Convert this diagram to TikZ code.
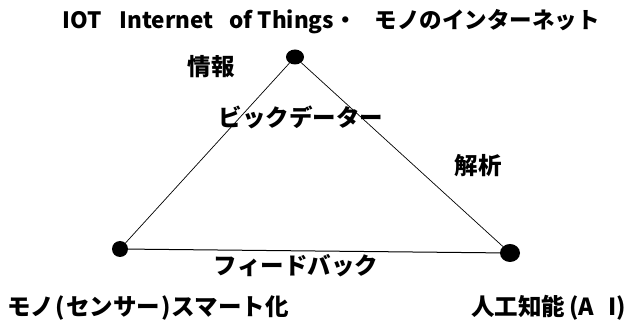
\documentclass[tikz,border=0pt]{standalone}
\usepackage{fontspec}
\setmainfont{Noto Sans CJK JP}
\usetikzlibrary{shapes.geometric}
\begin{document}
\begin{tikzpicture}[x=1pt,y=-1pt,
  dot/.style={ellipse,fill=black,inner sep=0pt},
  lbl/.style={font=\fontsize{23.5}{27}\selectfont\bfseries,inner sep=0pt}]
  \useasboundingbox (0,0) rectangle (630,323);
  % dots
  \node[dot,minimum width=18,minimum height=15] (iot) at (295,57) {};
  \node[dot,minimum width=16,minimum height=16] (mono) at (120,249) {};
  \node[dot,minimum width=20,minimum height=18] (ai) at (510,253) {};

  % triangle
  \draw[line width=0.7pt] (iot) -- (mono);
  \draw[line width=0.7pt] (iot) -- (ai);
  \draw[line width=1pt] (mono) -- (ai);

  % labels
  \node[lbl,font=\fontsize{22.5}{26}\selectfont\bfseries,anchor=west] (title) at (62,22)
    {IOT\hspace{18pt}Internet\hspace{16pt}of Things・\hspace{18pt}モノのインターネット};
  \node[lbl] (info) at (211,67) {情報};
  \node[lbl] (bigdata) at (301,117) {ビックデーター};
  \node[lbl] (analysis) at (478,166) {解析};
  \node[lbl] (feedback) at (296,266) {フィードバック};
  \node[lbl,anchor=west] (smart) at (7,308)
    {モノ\hspace{1pt}(\hspace{1.5pt}センサー\hspace{1.5pt})\hspace{1pt}スマート化};
  \node[lbl,anchor=east] (ainame) at (626,308)
    {人工知能\hspace{4pt}(A\hspace{14pt}I)};
\end{tikzpicture}
\end{document}
